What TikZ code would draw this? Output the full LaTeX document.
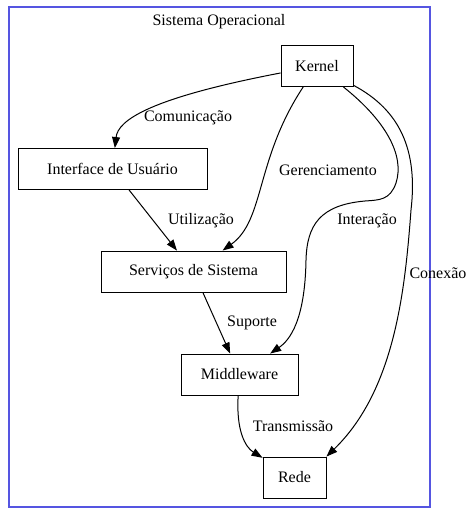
\documentclass[tikz,border=0pt]{standalone}
\usepackage{fontspec}
\setmainfont{Liberation Serif}
\usetikzlibrary{arrows.meta}
\definecolor{clusterblue}{RGB}{85,85,225}
\begin{document}
\begin{tikzpicture}[x=1pt,y=-1pt,
  box/.style={draw,line width=0.9pt,minimum height=41pt,inner sep=0pt,font=\fontsize{16}{18}\selectfont},
  lbl/.style={font=\fontsize{16}{18}\selectfont,inner sep=0pt},
  arr/.style={line width=1pt,-{Triangle[length=11pt,width=8pt]}}]
\useasboundingbox (0,0) rectangle (474,518);
\draw[clusterblue,line width=1.6pt] (9,7) rectangle (430,507);
\node[lbl] (title) at (219,22) {Sistema Operacional};
\node[box,minimum width=72pt] (k) at (317,66) {Kernel};
\node[box,minimum width=189pt] (ui) at (112.5,169) {Interface de Usuário};
\node[box,minimum width=185pt] (ss) at (193.5,271.5) {Serviços de Sistema};
\node[box,minimum width=117pt] (mw) at (239.5,374.5) {Middleware};
\node[box,minimum width=63pt] (r) at (294.5,477.5) {Rede};
\node[lbl] (l1) at (188,118) {Comunicação};
\node[lbl] (l2) at (328,170) {Gerenciamento};
\node[lbl] (l3) at (201,221) {Utilização};
\node[lbl] (l4) at (367,221) {Interação};
\node[lbl] (l5) at (438,273) {Conexão};
\node[lbl] (l6) at (252,323) {Suporte};
\node[lbl] (l7) at (293,426) {Transmissão};
\draw[arr] (k) .. controls (150,98) and (118,120) .. (ui);
\draw[arr] (k) .. controls (255,160) and (265,220) .. (ss);
\draw[arr] (ui) -- (ss);
\draw[arr] (ss) -- (mw);
\draw[arr] (k) .. controls (385,120) and (405,155) .. (396,183)
  .. controls (390,200) and (380,200) .. (365,201)
  .. controls (320,205) and (307,225) .. (306,260)
  .. controls (305,320) and (290,340) .. (mw);
\draw[arr] (k) .. controls (400,110) and (418,150) .. (411,210)
  .. controls (405,290) and (395,390) .. (r.north east);
\draw[arr] (mw) .. controls (236,430) and (245,447) .. (r);
\end{tikzpicture}
\end{document}
